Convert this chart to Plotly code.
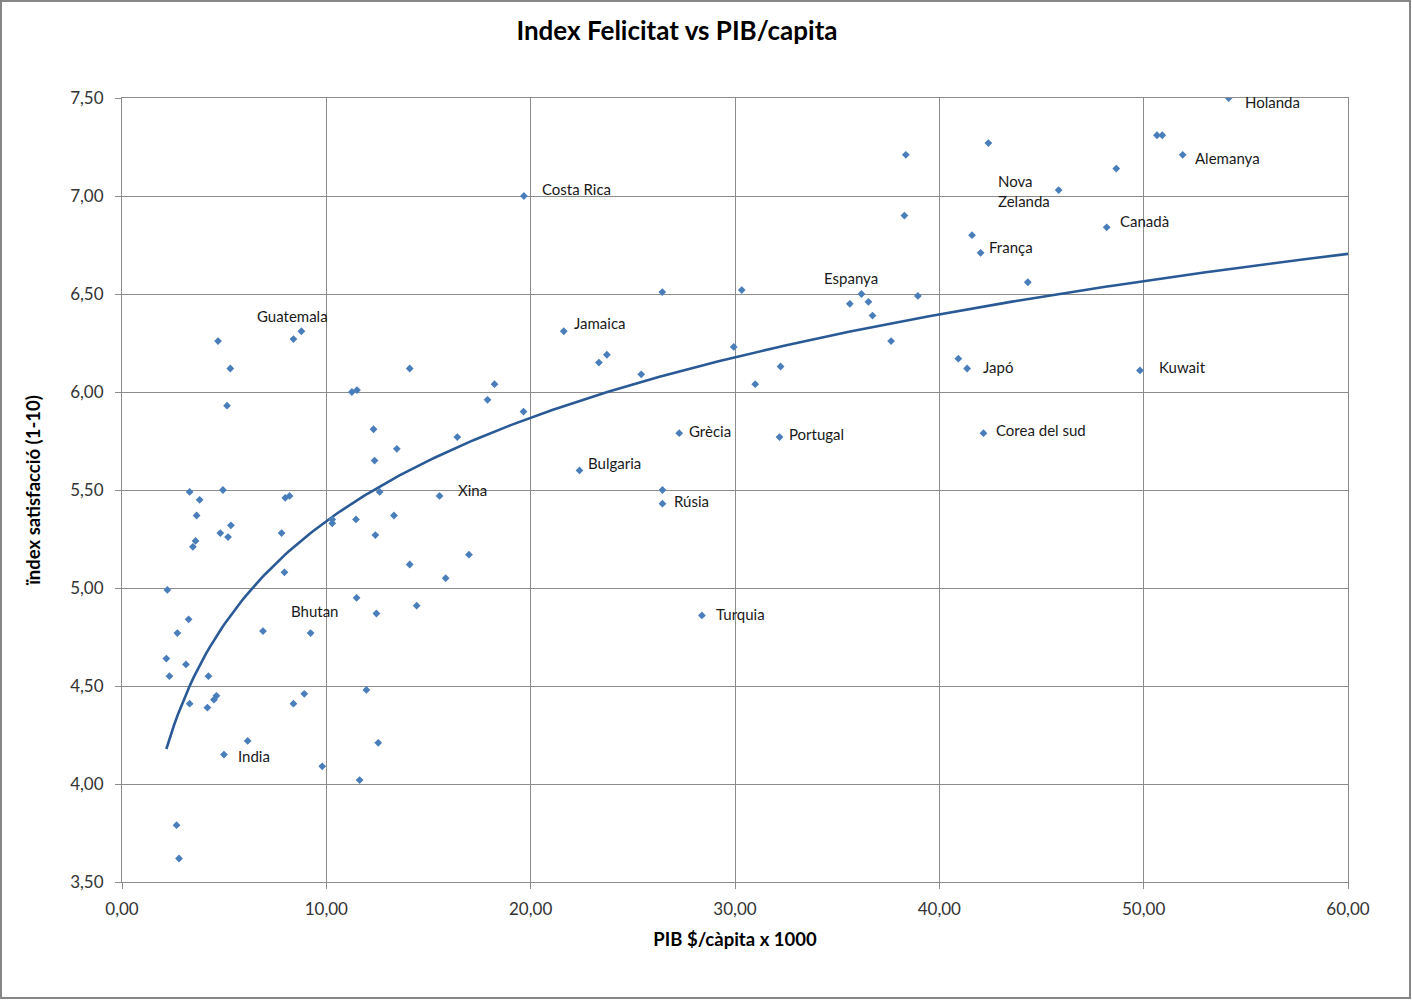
import numpy as np
import plotly.graph_objects as go

# PIB per capita (milers de $) i index de satisfaccio (1-10)
pib = [2.22, 2.17, 2.32, 2.71, 2.67, 2.79, 3.13, 3.26, 3.31, 3.31,
       3.47, 3.60, 3.65, 3.80, 4.23, 4.18, 4.50, 4.62, 4.70, 4.81,
       4.94, 4.99, 5.14, 5.19, 5.30, 5.33, 6.15, 6.90, 7.81, 7.95,
       7.99, 8.20, 8.39, 8.39, 8.78, 8.92, 9.23, 9.80, 10.29, 10.29,
       11.25, 11.50, 11.45, 11.48, 11.63, 11.96, 12.31, 12.36, 12.40, 12.45,
       12.54, 12.61, 13.31, 13.45, 14.08, 14.08, 14.42, 15.54, 15.84, 16.41,
       16.98, 17.89, 18.23, 19.65, 19.67, 21.62, 22.39, 23.34, 23.73, 25.41,
       26.44, 26.45, 26.45, 27.27, 28.38, 29.94, 30.33, 30.99, 32.18, 32.23,
       35.62, 36.19, 36.53, 36.73, 37.64, 38.29, 38.36, 38.95, 40.93, 41.36,
       41.60, 42.02, 42.16, 42.40, 44.33, 45.84, 48.19, 48.66, 49.82, 50.65,
       50.91, 51.91, 54.16]
felicitat = [4.99, 4.64, 4.55, 4.77, 3.79, 3.62, 4.61, 4.84, 5.49, 4.41,
             5.21, 5.24, 5.37, 5.45, 4.55, 4.39, 4.43, 4.45, 6.26, 5.28,
             5.50, 4.15, 5.93, 5.26, 6.12, 5.32, 4.22, 4.78, 5.28, 5.08,
             5.46, 5.47, 6.27, 4.41, 6.31, 4.46, 4.77, 4.09, 5.35, 5.33,
             6.00, 6.01, 5.35, 4.95, 4.02, 4.48, 5.81, 5.65, 5.27, 4.87,
             4.21, 5.49, 5.37, 5.71, 5.12, 6.12, 4.91, 5.47, 5.05, 5.77,
             5.17, 5.96, 6.04, 5.90, 7.00, 6.31, 5.60, 6.15, 6.19, 6.09,
             6.51, 5.50, 5.43, 5.79, 4.86, 6.23, 6.52, 6.04, 5.77, 6.13,
             6.45, 6.50, 6.46, 6.39, 6.26, 6.90, 7.21, 6.49, 6.17, 6.12,
             6.80, 6.71, 5.79, 7.27, 6.56, 7.03, 6.84, 7.14, 6.11, 7.31,
             7.31, 7.21, 7.50]
# index del punt -> nom del pais
etiquetes = {
    21: "India", 34: "Guatemala", 36: "Bhutan", 57: "Xina", 64: "Costa Rica",
    65: "Jamaica", 66: "Bulgaria", 72: "Rúsia", 73: "Grècia", 74: "Turquia",
    78: "Portugal", 81: "Espanya", 89: "Japó", 91: "França", 92: "Corea del sud",
    95: "Nova<br>Zelanda", 96: "Canadà", 98: "Kuwait", 101: "Alemanya", 102: "Holanda",
}

# linia de tendencia logaritmica d'Excel: y = A*ln(x) + B (coeficients llegits del grafic)
TEND_A = 0.761
TEND_B = 3.589
TEND_XMAX = 60

# posicio de cada etiqueta respecte del punt (xanchor, xshift, yshift)
pos_etiq = {
    "India": ("left", 12, -1), "Guatemala": ("center", -9, 15), "Bhutan": ("center", 4, 22),
    "Xina": ("left", 16, 6), "Costa Rica": ("left", 16, 7), "Jamaica": ("left", 8, 8),
    "Bulgaria": ("left", 6, 7), "Rúsia": ("left", 10, 3), "Grècia": ("left", 8, 2),
    "Turquia": ("left", 12, 1), "Portugal": ("left", 7, 3), "Espanya": ("center", -10, 16),
    "Japó": ("left", 14, 1), "França": ("left", 6, 6), "Corea del sud": ("left", 11, 3),
    "Nova<br>Zelanda": ("right", -7, -1), "Canadà": ("left", 11, 6), "Kuwait": ("left", 17, 3),
    "Alemanya": ("left", 10, -3), "Holanda": ("left", 14, -4),
}

FONT = "Lato"
W, H = 1412, 1000
ML, MR, MT, MB = 122, 64, 98, 118

xt = np.linspace(min(pib), TEND_XMAX, 300)
yt = TEND_A * np.log(xt) + TEND_B

fig = go.Figure()
fig.add_trace(go.Scatter(x=xt, y=yt, mode="lines",
                         line=dict(color="#2A5A96", width=2.6),
                         hoverinfo="skip", showlegend=False))
fig.add_trace(go.Scatter(x=pib, y=felicitat, mode="markers",
                         marker=dict(symbol="diamond", size=6, color="#4A7EBB"),
                         showlegend=False))

for i, nom in etiquetes.items():
    anc, dx, dy = pos_etiq[nom]
    fig.add_annotation(x=pib[i], y=felicitat[i], text=nom, showarrow=False,
                       xanchor=anc, yanchor="middle", xshift=dx, yshift=dy,
                       align="left", font=dict(family=FONT, size=15, color="#1a1a1a"))

# marc gris de tota l'area del grafic (pixels de la pagina -> coordenades paper)
pw, ph = W - ML - MR, H - MT - MB
fig.add_shape(type="rect", xref="paper", yref="paper",
              x0=(1 - ML) / pw, x1=(W - 2 - ML) / pw,
              y0=(H - MB - (H - 2)) / ph, y1=(H - MB - 1) / ph,
              line=dict(color="#868686", width=2), layer="above")

grid = "#8c8c8c"
fig.update_layout(
    width=W, height=H,
    margin=dict(l=ML, r=MR, t=MT, b=MB),
    paper_bgcolor="white", plot_bgcolor="white",
    separators=",.",
    font=dict(family=FONT, color="#262626"),
    title=dict(text="<b>Index Felicitat vs PIB/capita</b>", x=677 / W, xanchor="center",
               y=1 - 31 / H, yanchor="middle", font=dict(size=26, color="black")),
    xaxis=dict(range=[0, 60], dtick=10, tickformat=".2f", showgrid=True, gridcolor=grid,
               gridwidth=1, zeroline=False, showline=True, linecolor=grid, mirror=True,
               ticks="outside", ticklen=6, tickcolor=grid, ticklabelstandoff=6,
               tickfont=dict(size=17, color="#333"),
               title=dict(text="<b>PIB $/càpita x 1000</b>", font=dict(size=18.5, color="black"),
                          standoff=14)),
    yaxis=dict(range=[3.5, 7.5], dtick=0.5, tickformat=".2f", showgrid=True, gridcolor=grid,
               gridwidth=1, zeroline=False, showline=True, linecolor=grid, mirror=True,
               ticks="outside", ticklen=6, tickcolor=grid, ticklabelstandoff=8,
               tickfont=dict(size=17, color="#333"),
               title=dict(text="<b>ïndex satisfacció (1-10)</b>", font=dict(size=18.5, color="black"),
                          standoff=24)),
)

fig.write_html("out.html", config={"displayModeBar": False},
               post_script="document.body.style.margin='0';")
